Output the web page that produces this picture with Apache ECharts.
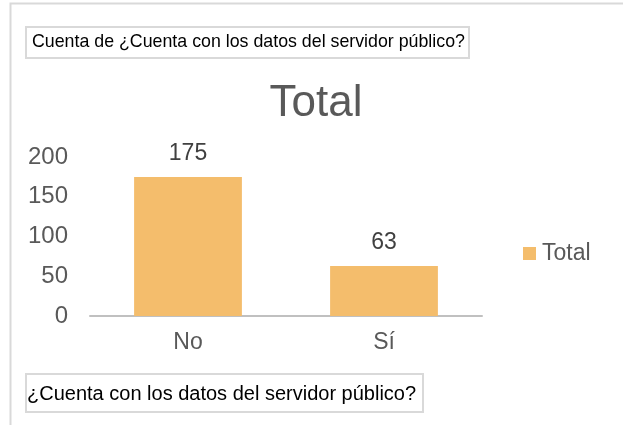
<!DOCTYPE html>
<html>
<head>
<meta charset="utf-8">
<script src="https://cdn.jsdelivr.net/npm/echarts@6/dist/echarts.min.js"></script>
<style>
  html, body { margin: 0; padding: 0; background: #fff; }
  #chart { width: 623px; height: 425px; }
</style>
</head>
<body>
<div id="chart"></div>
<script>
// Pivot chart: count of answers to "¿Cuenta con los datos del servidor público?"
const categories = ['No', 'Sí'];
const totals = [175, 63];
const yTicks = { min: 0, max: 200, interval: 50 };
const seriesName = 'Total';
const valueFieldLabel = 'Cuenta de ¿Cuenta con los datos del servidor público?';
const axisFieldLabel = '¿Cuenta con los datos del servidor público?';

const font = 'Liberation Sans, Arial, sans-serif';
const chart = echarts.init(document.getElementById('chart'), null, { renderer: 'canvas' });

chart.setOption({
  backgroundColor: '#ffffff',
  animation: false,
  title: {
    text: seriesName,
    left: 316,
    textAlign: 'center',
    top: 82,
    padding: 0,
    textStyle: { fontFamily: font, fontSize: 44, fontWeight: 'normal', color: '#595959' }
  },
  legend: {
    data: [seriesName],
    left: 523,
    top: 242,
    padding: 0,
    itemWidth: 13,
    itemHeight: 13,
    icon: 'rect',
    textStyle: { fontFamily: font, fontSize: 23, color: '#595959', padding: [0, 0, 0, 1] }
  },
  grid: { left: 90, right: 141, top: 157, bottom: 109 },
  xAxis: {
    type: 'category',
    data: categories,
    axisLine: { lineStyle: { color: '#c0c0c0', width: 2 } },
    axisTick: { show: false },
    axisLabel: { fontFamily: font, fontSize: 23, color: '#595959', margin: 15 }
  },
  yAxis: {
    type: 'value',
    min: yTicks.min,
    max: yTicks.max,
    interval: yTicks.interval,
    splitLine: { show: false },
    axisLine: { show: false },
    axisTick: { show: false },
    axisLabel: { fontFamily: font, fontSize: 24, color: '#595959', margin: 22, padding: [5, 0, 0, 0] }
  },
  series: [{
    name: seriesName,
    type: 'bar',
    data: totals,
    barWidth: '55%',
    itemStyle: { color: '#F4BD6C' },
    label: {
      show: true,
      position: 'top',
      distance: 12,
      fontFamily: font,
      fontSize: 23,
      color: '#404040'
    }
  }],
  graphic: [
    // chart-area frame (left and top edges)
    { type: 'polyline', shape: { points: [[10.5, 425], [10.5, 3.5], [623, 3.5]] },
      style: { stroke: '#d9d9d9', lineWidth: 2, fill: null } },
    // value field button
    { type: 'rect', shape: { x: 26, y: 27, width: 443, height: 31 },
      style: { fill: '#ffffff', stroke: '#d9d9d9', lineWidth: 2 } },
    { type: 'text', left: 32, top: 33,
      style: { text: valueFieldLabel, fontFamily: font, fontSize: 17.8, fill: '#000000' } },
    // axis field button
    { type: 'rect', shape: { x: 26, y: 374, width: 397, height: 38 },
      style: { fill: '#ffffff', stroke: '#d9d9d9', lineWidth: 2 } },
    { type: 'text', left: 27, top: 384,
      style: { text: axisFieldLabel, fontFamily: font, fontSize: 20, fill: '#000000' } }
  ]
});
</script>
</body>
</html>
